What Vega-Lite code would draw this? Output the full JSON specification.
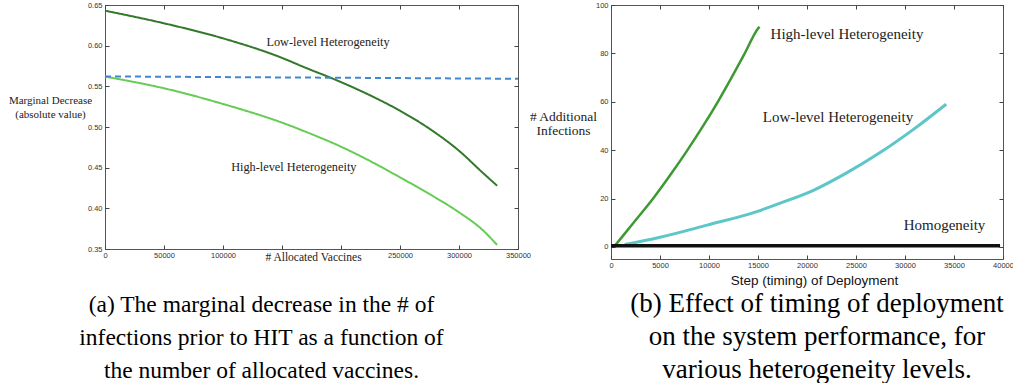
{
  "$schema": "https://vega.github.io/schema/vega-lite/v6.json",
  "background": "white",
  "padding": {"left": 7, "top": 0, "right": 0, "bottom": 0},
  "spacing": -4,
  "config": {
    "view": {"stroke": "#555", "strokeWidth": 1},
    "axis": {"grid": false, "domain": false, "tickSize": -4, "tickColor": "#444", "labelFont": "Liberation Sans", "labelFontSize": 7.5, "labelColor": "#333", "labelFlush": false, "titleFontWeight": "normal", "titleColor": "#222"}
  },
  "resolve": {"scale": {"color": "independent", "strokeDash": "independent", "strokeWidth": "independent"}},
  "hconcat": [
    {
      "width": 413,
      "height": 244,
      "title": {"text": ["(a) The marginal decrease in the # of", "infections prior to HIT as a function of", "the number of allocated vaccines."], "orient": "bottom", "frame": "group", "anchor": "middle", "dx": -50, "offset": 30, "font": "Liberation Serif", "fontSize": 23.5, "fontWeight": "normal", "lineHeight": 33, "color": "#000"},
      "layer": [
        {
          "data": {"values": [
            {"series": "Low-level Heterogeneity", "vaccines": 0, "value": 0.643},
            {"series": "Low-level Heterogeneity", "vaccines": 50000, "value": 0.6275},
            {"series": "Low-level Heterogeneity", "vaccines": 100000, "value": 0.609},
            {"series": "Low-level Heterogeneity", "vaccines": 150000, "value": 0.585},
            {"series": "Low-level Heterogeneity", "vaccines": 170000, "value": 0.5728},
            {"series": "Low-level Heterogeneity", "vaccines": 193000, "value": 0.5595},
            {"series": "Low-level Heterogeneity", "vaccines": 226700, "value": 0.5375},
            {"series": "Low-level Heterogeneity", "vaccines": 250000, "value": 0.52},
            {"series": "Low-level Heterogeneity", "vaccines": 277400, "value": 0.4955},
            {"series": "Low-level Heterogeneity", "vaccines": 300000, "value": 0.4708},
            {"series": "Low-level Heterogeneity", "vaccines": 319700, "value": 0.4443},
            {"series": "Low-level Heterogeneity", "vaccines": 332300, "value": 0.4278},
            {"series": "High-level Heterogeneity", "vaccines": 0, "value": 0.562},
            {"series": "High-level Heterogeneity", "vaccines": 50000, "value": 0.5476},
            {"series": "High-level Heterogeneity", "vaccines": 100000, "value": 0.5283},
            {"series": "High-level Heterogeneity", "vaccines": 150700, "value": 0.505},
            {"series": "High-level Heterogeneity", "vaccines": 174600, "value": 0.4915},
            {"series": "High-level Heterogeneity", "vaccines": 198200, "value": 0.477},
            {"series": "High-level Heterogeneity", "vaccines": 226700, "value": 0.4566},
            {"series": "High-level Heterogeneity", "vaccines": 250000, "value": 0.4381},
            {"series": "High-level Heterogeneity", "vaccines": 277400, "value": 0.4155},
            {"series": "High-level Heterogeneity", "vaccines": 300000, "value": 0.3951},
            {"series": "High-level Heterogeneity", "vaccines": 319700, "value": 0.3738},
            {"series": "High-level Heterogeneity", "vaccines": 332300, "value": 0.355},
            {"series": "Threshold", "vaccines": 0, "value": 0.5622},
            {"series": "Threshold", "vaccines": 350000, "value": 0.5593}
          ]},
          "mark": {"type": "line", "strokeWidth": 2, "interpolate": "monotone"},
          "encoding": {
            "x": {"field": "vaccines", "type": "quantitative", "scale": {"domain": [0, 350000], "nice": false},
              "axis": {"values": [0, 50000, 100000, 150000, 200000, 250000, 300000, 350000], "format": "d", "labelExpr": "datum.value == 150000 || datum.value == 200000 ? '' : datum.label", "labelPadding": 6, "title": "# Allocated Vaccines", "titleFont": "Liberation Serif", "titleFontSize": 11.5, "titleX": 208, "titleY": 8, "titleAlign": "center", "titleBaseline": "middle"}},
            "y": {"field": "value", "type": "quantitative", "scale": {"domain": [0.35, 0.65], "nice": false, "zero": false},
              "axis": {"values": [0.35, 0.4, 0.45, 0.5, 0.55, 0.6, 0.65], "format": ".2f", "labelPadding": 7, "title": ["Marginal Decrease", "(absolute value)"], "titleFont": "Liberation Serif", "titleFontSize": 11, "titleAngle": 0, "titleX": -55, "titleY": 95, "titleAlign": "center", "titleBaseline": "middle", "titleLineHeight": 14}},
            "color": {"field": "series", "type": "nominal", "scale": {"domain": ["Low-level Heterogeneity", "High-level Heterogeneity", "Threshold"], "range": ["#33782b", "#66cc55", "#4286d2"]}, "legend": null},
            "strokeDash": {"field": "series", "type": "nominal", "scale": {"domain": ["Low-level Heterogeneity", "High-level Heterogeneity", "Threshold"], "range": [[1, 0], [1, 0], [6, 4]]}, "legend": null}
          }
        },
        {
          "data": {"values": [
            {"vaccines": 189000, "value": 0.6045, "label": "Low-level Heterogeneity"},
            {"vaccines": 160000, "value": 0.451, "label": "High-level Heterogeneity"}
          ]},
          "mark": {"type": "text", "font": "Liberation Serif", "fontSize": 12.3, "color": "#222"},
          "encoding": {
            "x": {"field": "vaccines", "type": "quantitative", "axis": {"orient": "top", "values": [0, 50000, 100000, 150000, 200000, 250000, 300000, 350000], "labels": false, "title": null}},
            "y": {"field": "value", "type": "quantitative", "axis": {"orient": "right", "values": [0.35, 0.4, 0.45, 0.5, 0.55, 0.6, 0.65], "labels": false, "title": null}},
            "text": {"field": "label", "type": "nominal"}
          }
        }
      ],
      "resolve": {"axis": {"x": "independent", "y": "independent"}}
    },
    {
      "width": 392,
      "height": 254,
      "title": {"text": ["(b) Effect of timing of deployment", "on the system performance, for", "various heterogeneity levels."], "orient": "bottom", "frame": "group", "anchor": "middle", "dx": 10, "offset": 4, "font": "Liberation Serif", "fontSize": 27, "fontWeight": "normal", "lineHeight": 33, "color": "#000"},
      "layer": [
        {
          "data": {"values": [
            {"series": "High-level Heterogeneity", "step": 300, "count": 0},
            {"series": "High-level Heterogeneity", "step": 2300, "count": 10},
            {"series": "High-level Heterogeneity", "step": 4300, "count": 20},
            {"series": "High-level Heterogeneity", "step": 6100, "count": 30},
            {"series": "High-level Heterogeneity", "step": 7800, "count": 40},
            {"series": "High-level Heterogeneity", "step": 9400, "count": 50},
            {"series": "High-level Heterogeneity", "step": 10900, "count": 60},
            {"series": "High-level Heterogeneity", "step": 12300, "count": 70},
            {"series": "High-level Heterogeneity", "step": 13650, "count": 80},
            {"series": "High-level Heterogeneity", "step": 14950, "count": 90},
            {"series": "High-level Heterogeneity", "step": 15150, "count": 91},
            {"series": "Low-level Heterogeneity", "step": 1400, "count": 1},
            {"series": "Low-level Heterogeneity", "step": 4900, "count": 3.9},
            {"series": "Low-level Heterogeneity", "step": 9800, "count": 9},
            {"series": "Low-level Heterogeneity", "step": 14800, "count": 14.5},
            {"series": "Low-level Heterogeneity", "step": 17200, "count": 18},
            {"series": "Low-level Heterogeneity", "step": 20600, "count": 23.3},
            {"series": "Low-level Heterogeneity", "step": 24000, "count": 30.5},
            {"series": "Low-level Heterogeneity", "step": 27500, "count": 39.1},
            {"series": "Low-level Heterogeneity", "step": 30900, "count": 48.7},
            {"series": "Low-level Heterogeneity", "step": 34200, "count": 59},
            {"series": "Homogeneity", "step": 0, "count": 0.5},
            {"series": "Homogeneity", "step": 39700, "count": 0.5}
          ]},
          "mark": {"type": "line", "interpolate": "monotone"},
          "encoding": {
            "x": {"field": "step", "type": "quantitative", "scale": {"domain": [0, 40000], "nice": false},
              "axis": {"values": [0, 5000, 10000, 15000, 20000, 25000, 30000, 35000, 40000], "format": "d", "labelPadding": 6, "title": "Step (timing) of Deployment", "titleFont": "Liberation Sans", "titleFontSize": 13.5, "titleColor": "#111", "titleX": 203, "titleY": 21, "titleAlign": "center", "titleBaseline": "middle"}},
            "y": {"field": "count", "type": "quantitative", "scale": {"domain": [-5, 100], "nice": false, "zero": false},
              "axis": {"values": [0, 20, 40, 60, 80, 100], "labelPadding": 7, "title": ["# Additional", "Infections"], "titleFont": "Liberation Serif", "titleFontSize": 13.5, "titleAngle": 0, "titleX": -48, "titleY": 111, "titleAlign": "center", "titleBaseline": "middle", "titleLineHeight": 14}},
            "color": {"field": "series", "type": "nominal", "scale": {"domain": ["High-level Heterogeneity", "Low-level Heterogeneity", "Homogeneity"], "range": ["#3d9a33", "#5cc6c8", "#111111"]}, "legend": null},
            "strokeWidth": {"field": "series", "type": "nominal", "scale": {"domain": ["High-level Heterogeneity", "Low-level Heterogeneity", "Homogeneity"], "range": [2.5, 3.5, 4]}, "legend": null}
          }
        },
        {
          "data": {"values": [
            {"step": 24080, "count": 88.1, "label": "High-level Heterogeneity"},
            {"step": 23160, "count": 53.7, "label": "Low-level Heterogeneity"},
            {"step": 34030, "count": 9.0, "label": "Homogeneity"}
          ]},
          "mark": {"type": "text", "font": "Liberation Serif", "fontSize": 15, "color": "#222"},
          "encoding": {
            "x": {"field": "step", "type": "quantitative", "axis": {"orient": "top", "values": [0, 5000, 10000, 15000, 20000, 25000, 30000, 35000, 40000], "labels": false, "title": null}},
            "y": {"field": "count", "type": "quantitative", "axis": {"orient": "right", "values": [0, 20, 40, 60, 80, 100], "labels": false, "title": null}},
            "text": {"field": "label", "type": "nominal"}
          }
        }
      ],
      "resolve": {"axis": {"x": "independent", "y": "independent"}}
    }
  ]
}
